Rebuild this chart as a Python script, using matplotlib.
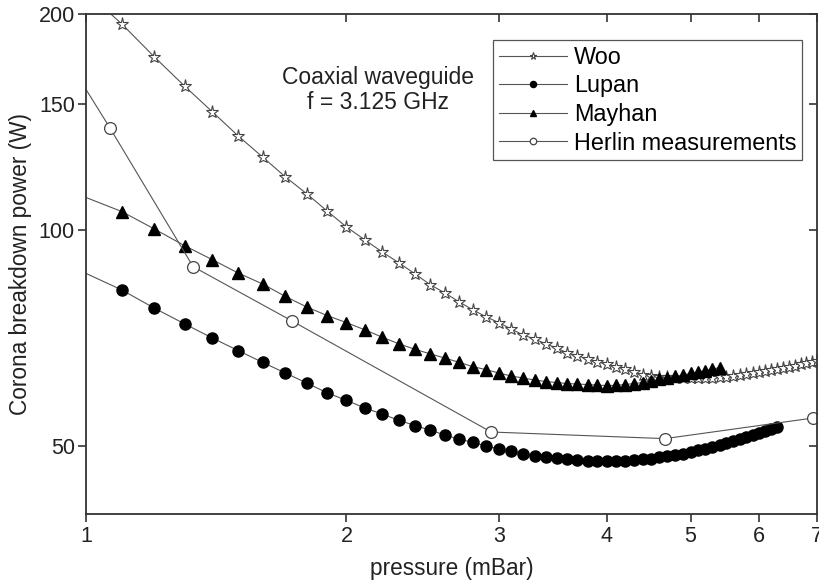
import matplotlib
matplotlib.use("Agg")
import matplotlib.pyplot as plt
from matplotlib.ticker import FixedLocator, FixedFormatter, NullLocator

plt.rcParams['font.family'] = ['Liberation Sans', 'DejaVu Sans']

# ---------------- data ----------------
woo_p = [1.0, 1.1, 1.2, 1.3, 1.4, 1.5, 1.6, 1.7, 1.8, 1.9,
         2.0, 2.1, 2.2, 2.3, 2.4, 2.5, 2.6, 2.7, 2.8, 2.9,
         3.0, 3.1, 3.2, 3.3, 3.4, 3.5, 3.6, 3.7, 3.8, 3.9,
         4.0, 4.1, 4.2, 4.3, 4.4, 4.5, 4.6, 4.7, 4.8, 4.9,
         5.0, 5.1, 5.2, 5.3, 5.4, 5.5, 5.6, 5.7, 5.8, 5.9,
         6.0, 6.1, 6.2, 6.3, 6.4, 6.5, 6.6, 6.7, 6.8, 6.9, 7.0]
woo_w = [215, 193.7, 174.2, 158.7, 146.1, 135.2, 126.4, 118.6, 112.3, 106.3,
         101.0, 96.9, 93.2, 90.0, 86.9, 83.9, 81.7, 79.4, 77.4, 75.7,
         74.3, 72.8, 71.4, 70.5, 69.4, 68.5, 67.4, 66.8, 66.1, 65.5,
         65.1, 64.5, 64.1, 63.4, 62.8, 62.6, 62.4, 62.3, 62.2, 62.1,
         62.1, 62.1, 62.1, 62.2, 62.3, 62.4, 62.6, 62.8, 63.0, 63.2,
         63.4, 63.6, 63.8, 64.0, 64.3, 64.5, 64.7, 65.0, 65.2, 65.4, 65.7]

lupan_p = [1.0, 1.1, 1.2, 1.3, 1.4, 1.5, 1.6, 1.7, 1.8, 1.9,
           2.0, 2.1, 2.2, 2.3, 2.4, 2.5, 2.6, 2.7, 2.8, 2.9,
           3.0, 3.1, 3.2, 3.3, 3.4, 3.5, 3.6, 3.7, 3.8, 3.9,
           4.0, 4.1, 4.2, 4.3, 4.4, 4.5, 4.6, 4.7, 4.8, 4.9,
           5.0, 5.1, 5.2, 5.3, 5.4, 5.5, 5.6, 5.7, 5.8, 5.9,
           6.0, 6.1, 6.2, 6.3]
lupan_w = [87.0, 82.5, 77.8, 74.0, 70.7, 67.9, 65.4, 63.2, 61.2, 59.3,
           57.9, 56.5, 55.4, 54.3, 53.4, 52.6, 51.8, 51.1, 50.6, 50.0,
           49.55, 49.2, 48.8, 48.5, 48.3, 48.1, 48.0, 47.8, 47.7, 47.6,
           47.6, 47.6, 47.7, 47.8, 47.9, 48.0, 48.2, 48.4, 48.6, 48.8,
           49.0, 49.3, 49.6, 49.9, 50.2, 50.5, 50.8, 51.1, 51.4, 51.8,
           52.2, 52.5, 52.8, 53.2]

mayhan_p = [1.0, 1.1, 1.2, 1.3, 1.4, 1.5, 1.6, 1.7, 1.8, 1.9,
            2.0, 2.1, 2.2, 2.3, 2.4, 2.5, 2.6, 2.7, 2.8, 2.9,
            3.0, 3.1, 3.2, 3.3, 3.4, 3.5, 3.6, 3.7, 3.8, 3.9,
            4.0, 4.1, 4.2, 4.3, 4.4, 4.5, 4.6, 4.7, 4.8, 4.9,
            5.0, 5.1, 5.2, 5.3, 5.4]
mayhan_w = [111.0, 106.1, 100.3, 95.1, 90.9, 87.1, 84.1, 80.8, 78.1, 76.0,
            74.3, 72.6, 70.9, 69.4, 68.2, 67.2, 66.3, 65.4, 64.5, 63.9,
            63.2, 62.6, 62.2, 61.8, 61.5, 61.3, 61.1, 61.0, 60.9, 60.8,
            60.7, 60.75, 60.9, 61.1, 61.3, 61.6, 61.9, 62.2, 62.5, 62.8,
            63.1, 63.4, 63.7, 64.0, 64.3]

herlin_p = [1.0, 1.066, 1.33, 1.73, 2.94, 4.67, 6.93]
herlin_w = [157.0, 138.7, 88.9, 74.7, 52.3, 51.2, 54.7]

x_ticks = [1, 2, 3, 4, 5, 6, 7]
x_labels = ['1', '2', '3', '4', '5', '6', '7']
y_ticks = [50, 100, 150, 200]
y_labels = ['50', '100', '150', '200']

# ---------------- figure ----------------
fig = plt.figure(figsize=(8.2, 5.81), dpi=100)
ax = fig.add_axes([86/820, 1-514/581, 731/820, 500/581])

lc = '#555555'
ax.plot(woo_p, woo_w, color=lc, lw=0.8, marker='*', ms=9.5, mfc='white',
        mec='#444444', mew=0.8, markevery=slice(1, None), label='Woo')
ax.plot(lupan_p, lupan_w, color=lc, lw=0.8, marker='o', ms=8, mfc='black',
        mec='black', markevery=slice(1, None), label='Lupan')
ax.plot(mayhan_p, mayhan_w, color=lc, lw=0.8, marker='^', ms=9, mfc='black',
        mec='black', markevery=slice(1, None), label='Mayhan')
ax.plot(herlin_p, herlin_w, color=lc, lw=0.8, marker='o', ms=8.5, mfc='white',
        mec='#444444', mew=0.9, markevery=slice(1, None), label='Herlin measurements')

ax.set_xscale('log')
ax.set_yscale('log')
ax.set_xlim(1, 7)
ax.set_ylim(40.2, 200)

ax.xaxis.set_major_locator(FixedLocator(x_ticks))
ax.xaxis.set_major_formatter(FixedFormatter(x_labels))
ax.xaxis.set_minor_locator(NullLocator())
ax.yaxis.set_major_locator(FixedLocator(y_ticks))
ax.yaxis.set_major_formatter(FixedFormatter(y_labels))
ax.yaxis.set_minor_locator(NullLocator())

ax.tick_params(axis='both', which='major', labelsize=15.5, colors='#222222',
               width=1.1, length=6)
ax.tick_params(axis='x', direction='out', top=True, pad=3)
ax.tick_params(axis='y', direction='out', right=True, pad=2)
# top/right ticks point inward
for t in ax.xaxis.get_major_ticks():
    t.tick2line.set_marker(3)  # TICKDOWN
for t in ax.yaxis.get_major_ticks():
    t.tick2line.set_marker(0)  # TICKLEFT

for s in ax.spines.values():
    s.set_linewidth(1.3)
    s.set_color('#333333')

ax.set_xlabel('pressure (mBar)', fontsize=16.3, color='#222222', labelpad=7)
ax.set_ylabel('Corona breakdown power (W)', fontsize=16.3, color='#222222', labelpad=5)

ax.text(0.3995, 0.848, 'Coaxial waveguide\nf = 3.125 GHz', transform=ax.transAxes,
        ha='center', va='center', fontsize=16.5, color='#222222', linespacing=1.15)

leg = ax.legend(loc='upper right', bbox_to_anchor=(1 - 15/731, 1 - 26/500),
                fontsize=16.8, frameon=True, fancybox=False, edgecolor='#555555',
                framealpha=1, handlelength=2.9, handletextpad=0.3,
                borderpad=0.25, labelspacing=0.24, markerscale=0.55,
                borderaxespad=0)
leg.get_frame().set_linewidth(0.9)

fig.savefig('out.png', dpi=100)
